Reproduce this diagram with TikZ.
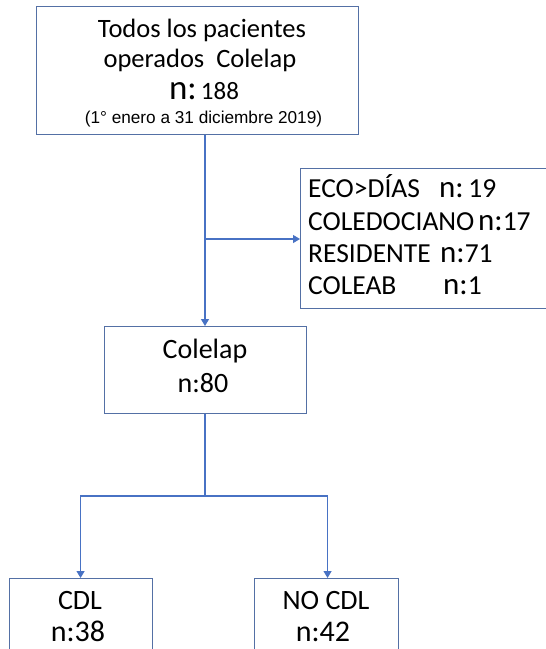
\documentclass[tikz,border=0pt]{standalone}
\usepackage{fontspec}
\setmainfont{Carlito}
\newfontfamily\arialf{Liberation Sans}
\usetikzlibrary{arrows.meta}
\definecolor{boxc}{RGB}{84,112,165}
\definecolor{linec}{RGB}{72,114,196}
\newcommand{\nbig}[1]{{\fontsize{35}{40}\selectfont #1}}
\newcommand{\nmid}[1]{{\fontsize{31}{34}\selectfont #1}}
\begin{document}
\begin{tikzpicture}[x=1pt,y=-1pt,
  box/.style={draw=boxc, line width=1.1pt, inner sep=0pt},
  conn/.style={draw=linec, line width=1.1pt},
  arr/.style={conn, -{Triangle[width=8pt,length=7pt]}},
  txt/.style={anchor=base, inner sep=0pt, font=\fontsize{26.5}{30}\selectfont},
  ltxt/.style={anchor=base west, inner sep=0pt, font=\fontsize{27.5}{30}\selectfont}]
\fill[white] (0,0) rectangle (546,649);
\clip (0,0) rectangle (546,649);
% boxes
\node[box, anchor=north west, minimum width=322pt, minimum height=128pt] (top) at (36,6) {};
\node[box, anchor=north west, minimum width=262pt, minimum height=140pt] (side) at (300,168) {};
\node[box, anchor=north west, minimum width=202pt, minimum height=87pt] (mid) at (104,326) {};
\node[box, anchor=north west, minimum width=143pt, minimum height=90pt] (cdl) at (9,578) {};
\node[box, anchor=north west, minimum width=144pt, minimum height=90pt] (nocdl) at (254,578) {};
% top texts
\node[txt] (t1) at (202,37) {Todos los pacientes};
\node[txt] (t2) at (200,67) {operados\ \ Colelap};
\node[anchor=base, inner sep=0pt, font=\fontsize{25}{28}\selectfont] (t3) at (204,99) {\nbig{n:}\,188};
\node[anchor=base, inner sep=0pt, font=\arialf\fontsize{17.2}{19}\selectfont] (t4) at (203.5,123) {(1° enero a 31 diciembre 2019)};
% side texts
\node[ltxt] (s1) at (308,197) {ECO>DÍAS};
\node[ltxt] (s1n) at (439,197) {\nmid{n:}\,19};
\node[ltxt] (s2) at (308,230) {COLEDOCIANO};
\node[ltxt] (s2n) at (478,230) {\nmid{n:}17};
\node[ltxt] (s3) at (308,262) {RESIDENTE};
\node[ltxt] (s3n) at (440,262) {\nmid{n:}71};
\node[ltxt] (s4) at (308,294) {COLEAB};
\node[ltxt] (s4n) at (443,294) {\nmid{n:}1};
% mid texts
\node[txt, font=\fontsize{28}{30}\selectfont] (m1) at (205,358) {Colelap};
\node[txt, font=\fontsize{28}{30}\selectfont] (m2) at (203,392) {n:80};
% bottom texts
\node[txt, font=\fontsize{28}{30}\selectfont] (c1) at (80,609) {CDL};
\node[txt, font=\fontsize{30}{32}\selectfont] (c2) at (78,641) {n:38};
\node[txt, font=\fontsize{28}{30}\selectfont] (d1) at (326,609) {NO CDL};
\node[txt, font=\fontsize{30}{32}\selectfont] (d2) at (323,641) {n:42};
% connectors
\coordinate (j1) at (205,239);
\coordinate (j2) at (205,496);
\draw[arr] (top.south -| j1) -- (mid.north -| j1);
\draw[arr] (j1) -- (side.west |- j1);
\draw[conn] (mid.south -| j2) -- (j2);
\draw[arr] (j2) -| ([xshift=-0.5pt]cdl.north);
\draw[arr] (j2) -| ([xshift=1pt]nocdl.north);
\end{tikzpicture}
\end{document}
